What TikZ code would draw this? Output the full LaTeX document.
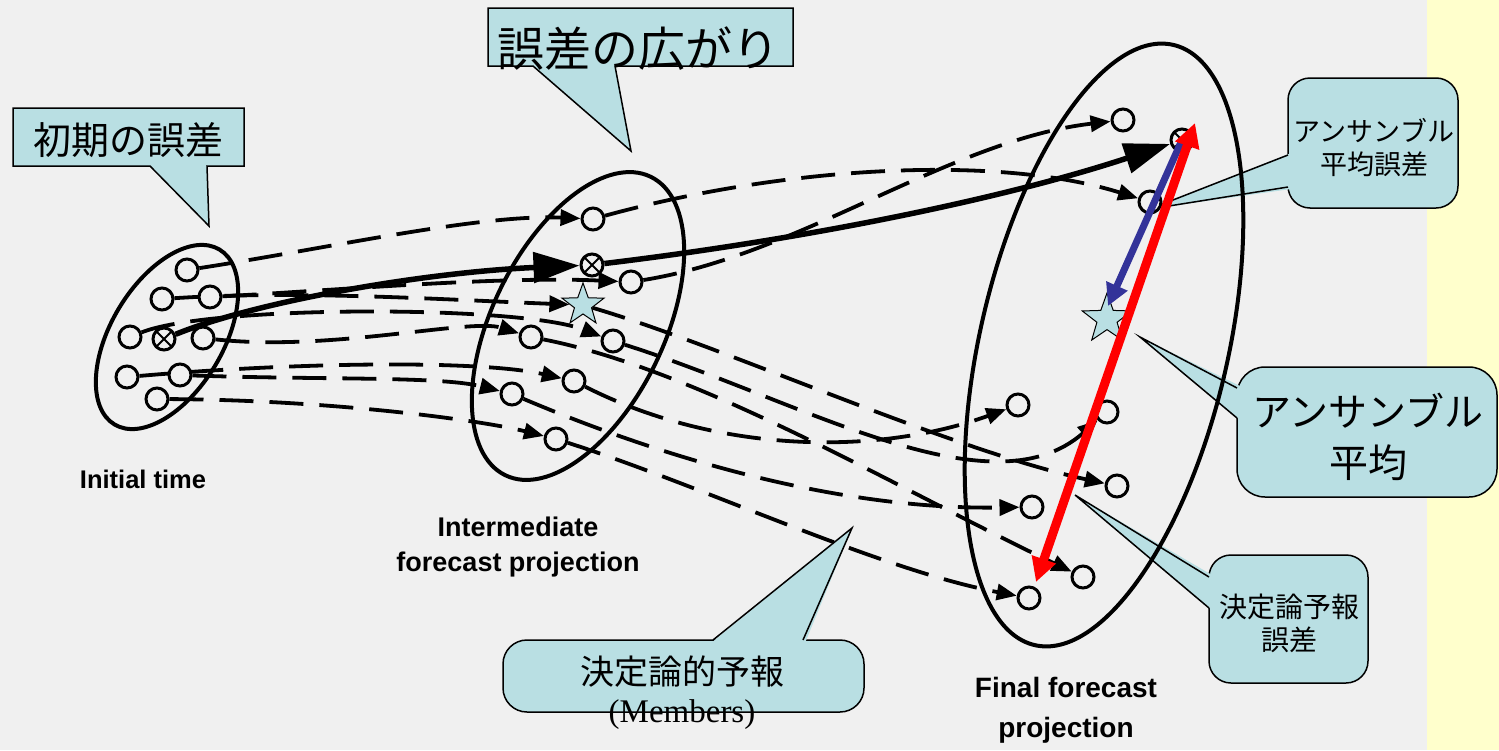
\documentclass[tikz,border=0pt]{standalone}
\usepackage{fontspec}
\setmainfont{Liberation Sans}
\newfontfamily\jpf{Noto Sans CJK JP}
\newfontfamily\serf{Liberation Serif}
\usetikzlibrary{shapes.geometric,arrows.meta}
\pgfdeclarelayer{front}
\pgfsetlayers{main,front}
\definecolor{bgc}{HTML}{F0F0F0}
\definecolor{ylw}{HTML}{FFFFCC}
\definecolor{cfill}{HTML}{B9DFE3}
\definecolor{blu}{HTML}{333399}
\definecolor{redc}{HTML}{FF0000}
\begin{document}
\begin{tikzpicture}[x=1pt,y=-1pt,
  mem/.style={circle,draw,fill=bgc,line width=3pt,minimum size=22pt,inner sep=0pt},
  ctl/.style={mem,path picture={\draw[line width=2pt] (path picture bounding box.south west) -- (path picture bounding box.north east) (path picture bounding box.north west) -- (path picture bounding box.south east);}},
  traj/.style={line width=3.8pt,dash pattern=on 34pt off 16pt,-{Triangle[length=20pt,width=16pt]}},
  mainln/.style={line width=5.5pt,-{Triangle[length=46pt,width=30pt]}},
  ell/.style={line width=4pt},
  call/.style={fill=cfill,draw=black,line width=1.5pt},
  callline/.style={draw=black,line width=1.5pt},
  txt/.style={inner sep=0pt,align=center},
  lab/.style={txt,font=\bfseries},
  starn/.style={star,star points=5,star point ratio=2.45,inner sep=0pt,fill=cfill,draw=black,line width=1pt}
]
\useasboundingbox (0,0) rectangle (1499,750);
\fill[bgc] (0,0) rectangle (1427,750);
\fill[ylw] (1427,0) rectangle (1499,750);

% ---- callouts ----
\filldraw[call] (13,108) -- (244,108) -- (244,166) -- (207,166) -- (209,226) -- (150,166) -- (13,166) -- cycle;
\node[txt,font={\jpf\fontsize{38}{40}\selectfont}] (c1) at (128,140) {初期の誤差};

\filldraw[call] (488,8) -- (793,8) -- (793,66) -- (615,66) -- (631,151) -- (533,66) -- (488,66) -- cycle;
\node[txt,font={\jpf\fontsize{47}{50}\selectfont}] (c2) at (638,49) {誤差の広がり};

\filldraw[call,rounded corners=22pt] (1288,78) rectangle (1458,208);
\fill[cfill] (1291,153) -- (1150,209) -- (1291,189) -- cycle;
\draw[callline] (1288,155) -- (1150,209) -- (1288,187);
\node[txt,font={\jpf\fontsize{27}{33}\selectfont}] (c3) at (1374,148) {アンサンブル\\平均誤差};

\filldraw[call,rounded corners=28pt] (1237,367) rectangle (1497,497);
\fill[cfill] (1240,386) -- (1140,337) -- (1240,420) -- cycle;
\draw[callline] (1237,388) -- (1140,337) -- (1237,418);
\node[txt,font={\jpf\fontsize{39}{51}\selectfont}] (c4) at (1368,437) {アンサンブル\\平均};

\filldraw[call,rounded corners=22pt] (1209,555) rectangle (1368,683);
\fill[cfill] (1212,575) -- (1075,495) -- (1212,610) -- cycle;
\draw[callline] (1209,577) -- (1075,495) -- (1209,608);
\node[txt,font={\jpf\fontsize{28}{33}\selectfont}] (c5) at (1289,623) {決定論予報\\誤差};

\filldraw[call,rounded corners=24pt] (503,640) rectangle (864,712);
\fill[cfill] (711,643) -- (852,528) -- (805,643) -- cycle;
\draw[callline] (713,640) -- (852,528) -- (803,640);
\node[txt,font={\jpf\fontsize{34}{36}\selectfont}] (c6) at (682,672) {決定論的予報};
\node[txt,font={\serf\fontsize{33}{36}\selectfont}] (c6b) at (682,715) {(Members)};

% ---- labels ----
\node[lab,font={\bfseries\fontsize{25.5}{30}\selectfont}] (lt1) at (143,479) {Initial time};
\node[lab,font={\bfseries\fontsize{27}{35}\selectfont}] (lt2) at (518,547) {Intermediate\\forecast projection};
\node[lab,font={\bfseries\fontsize{28}{40}\selectfont}] (lt3) at (1066,710) {Final forecast\\projection};

% ---- ellipses ----
\draw[ell,rotate around={59:(167,337)}] (167,337) ellipse [x radius=102pt,y radius=56pt];
\draw[ell,rotate around={64:(578,326)}] (578,326) ellipse [x radius=166pt,y radius=86pt];
\draw[ell,rotate around={77:(1104,345)}] (1104,345) ellipse [x radius=308pt,y radius=124pt];

% ---- members (front layer) ----
\begin{pgfonlayer}{front}
\node[mem] (L1) at (187,270) {};
\node[mem] (L2) at (162,299) {};
\node[mem] (L3) at (210,297) {};
\node[mem] (L4) at (130,337) {};
\node[ctl] (Lx) at (164,339) {};
\node[mem] (L5) at (203,338) {};
\node[mem] (L6) at (127,377) {};
\node[mem] (L7) at (180,375) {};
\node[mem] (L8) at (157,399) {};

\node[mem] (M1) at (593,219) {};
\node[ctl] (Mx) at (592,265) {};
\node[mem] (M2) at (631,282) {};
\node[mem] (M3) at (531,337) {};
\node[mem] (M4) at (613,341) {};
\node[mem] (M5) at (574,381) {};
\node[mem] (M6) at (512,394) {};
\node[mem] (M7) at (556,439) {};
\node[starn,minimum size=44pt] (S1) at (583,305) {};

\node[mem] (R1) at (1123,120) {};
\node[ctl] (Rx) at (1182,140) {};
\node[mem] (R2) at (1150,202) {};
\node[mem] (R3) at (1018,405) {};
\node[mem] (R4) at (1107,412) {};
\node[mem] (R5) at (1117,486) {};
\node[mem] (R6) at (1032,507) {};
\node[mem] (R7) at (1083,577) {};
\node[mem] (R8) at (1029,598) {};
\node[starn,minimum size=52pt] (S2) at (1107,319) {};
\end{pgfonlayer}

% ---- trajectories: initial -> intermediate ----
\draw[traj] (L1) .. controls (330,248) and (480,214) .. (M1);
\draw[traj] (L3) .. controls (340,290) and (500,276) .. (M2);
\draw[traj] (L2) .. controls (300,290) and (450,300) .. (S1);
\draw[traj] (L4) .. controls (210,305) and (520,305) .. (M4);
\draw[traj] (L5) .. controls (330,352) and (470,318) .. (M3);
\draw[traj] (L6) .. controls (300,362) and (480,360) .. (M5);
\draw[traj] (L7) .. controls (320,380) and (440,376) .. (M6);
\draw[traj] (L8) .. controls (330,400) and (480,420) .. (M7);

% ---- trajectories: intermediate -> final ----
\draw[traj] (M1) .. controls (790,165) and (1000,155) .. (R2);
\draw[traj] (M2) .. controls (800,255) and (950,140) .. (R1);
\draw[traj] (S1) .. controls (720,345) and (950,450) .. (R5);
\draw[traj] (M4) .. controls (800,400) and (990,515) .. (R4);
\draw[traj] (M5) .. controls (720,455) and (880,455) .. (R3);
\draw[traj] (M3) .. controls (700,370) and (900,490) .. (R7);
\draw[traj] (M6) .. controls (680,465) and (850,510) .. (R6);
\draw[traj] (M7) .. controls (700,485) and (880,570) .. (R8);

% ---- control (deterministic) forecast ----
\draw[mainln] (Lx) .. controls (260,300) and (430,272) .. (Mx);
\draw[mainln] (Mx) .. controls (800,240) and (1000,200) .. (Rx);

% ---- error arrows ----
\coordinate (S2tip) at (1108,306);
\coordinate (redTop) at (1195,123);
\coordinate (redBot) at (1036,582);
\begin{pgfonlayer}{front}
\draw[blu,line width=7pt,-{Triangle[length=22pt,width=22pt]}] (Rx.center) -- (S2tip);
\draw[redc,line width=9pt,{Triangle[length=24pt,width=24pt]}-{Triangle[length=24pt,width=24pt]}] (redBot) -- (redTop);
\end{pgfonlayer}
\end{tikzpicture}
\end{document}
